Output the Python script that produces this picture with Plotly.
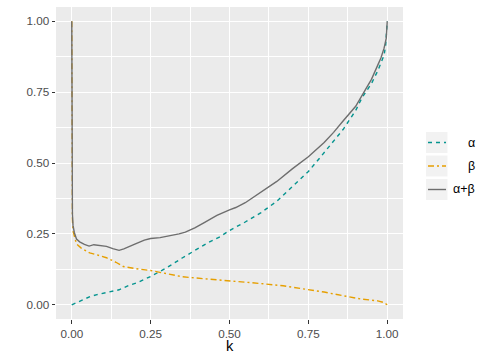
"""Recreate the alpha / beta / alpha+beta curves chart in a ggplot2 look."""

from __future__ import annotations

import plotly.graph_objects as go

K_SUM = [
  0, 0.0005, 0.001, 0.002, 0.004, 0.008, 0.015, 0.025, 0.04, 0.055, 0.07, 0.09,
  0.11, 0.13, 0.15, 0.165, 0.18, 0.2, 0.23, 0.25, 0.28, 0.31, 0.34, 0.36, 0.39,
  0.42, 0.46, 0.5, 0.52, 0.55, 0.6, 0.65, 0.7, 0.75, 0.8, 0.83, 0.86, 0.9, 0.93,
  0.95, 0.97, 0.98, 0.99, 0.997, 1.0,
]
SUM_VALUES = [
  1.0, 0.7, 0.45, 0.32, 0.28, 0.255, 0.232, 0.222, 0.213, 0.207, 0.212, 0.209,
  0.206, 0.198, 0.192, 0.197, 0.205, 0.214, 0.228, 0.234, 0.237, 0.243, 0.25, 0.256, 0.271,
  0.29, 0.315, 0.335, 0.343, 0.36, 0.396, 0.435, 0.48, 0.522, 0.572, 0.608, 0.648, 0.70, 0.757,
  0.795, 0.845, 0.87, 0.905, 0.94, 1.0,
]

K_ALPHA = [
  0, 0.02, 0.036, 0.06, 0.08, 0.11, 0.15, 0.18, 0.21, 0.25, 0.3, 0.35, 0.4, 0.43,
  0.47, 0.5, 0.55, 0.6, 0.65, 0.7, 0.72, 0.75, 0.79, 0.83, 0.86, 0.9, 0.92, 0.95,
  0.97, 0.99, 0.995, 1.0,
]
ALPHA_VALUES = [
  0, 0.01, 0.018, 0.03, 0.036, 0.043, 0.053, 0.068, 0.079, 0.1, 0.13, 0.165, 0.198, 0.218,
  0.24, 0.262, 0.292, 0.325, 0.365, 0.418, 0.44, 0.47, 0.523, 0.575, 0.618, 0.685, 0.73, 0.78,
  0.825, 0.88, 0.915, 1.0,
]

K_BETA = [
  0, 0.0005, 0.001, 0.002, 0.004, 0.008, 0.015, 0.03, 0.057, 0.08, 0.11, 0.14, 0.163,
  0.2, 0.25, 0.3, 0.35, 0.43, 0.5, 0.53, 0.6, 0.67, 0.75, 0.8, 0.87, 0.92, 0.97, 0.99, 1.0,
]
BETA_VALUES = [
  1.0, 0.7, 0.45, 0.3, 0.26, 0.24, 0.215, 0.2, 0.183, 0.176, 0.166, 0.15, 0.135,
  0.128, 0.121, 0.11, 0.099, 0.091, 0.085, 0.082, 0.075, 0.067, 0.053, 0.045, 0.03, 0.02, 0.014, 0.008, 0.0,
]

TICKS = [0, 0.25, 0.5, 0.75, 1.0]
TICK_LABELS = ["0.00", "0.25", "0.50", "0.75", "1.00"]

SERIES = [
  ("α", K_ALPHA, ALPHA_VALUES, "#05948F", "4px,4px"),
  ("β", K_BETA, BETA_VALUES, "#E69F00", "6px,3px,2px,3px"),
  ("α+β", K_SUM, SUM_VALUES, "#6E6E6E", "solid"),
]

FONT = "Liberation Sans, Arial, sans-serif"

# panel box in pixels (left, right, top, bottom)
PANEL = (56, 403, 7, 319)


def _px(x: float, y: float) -> tuple[float, float]:
  """
  Convert page pixels to paper coordinates.

  Args:
      x (float): Horizontal pixel.
      y (float): Vertical pixel from the top.

  Returns:
      tuple[float, float]: Paper coordinates.
  """
  left, right, top, bottom = PANEL
  return (x - left) / (right - left), (bottom - y) / (bottom - top)


def _axis() -> dict:
  """
  Build a ggplot-like axis definition.

  Returns:
      dict: Plotly axis settings.
  """
  return dict(
    range=[-0.05, 1.05], tickvals=TICKS, ticktext=TICK_LABELS, automargin=False,
    ticks="outside", ticklen=3.5, tickwidth=1.1, tickcolor="#333333",
    tickfont=dict(size=11.7, color="#4D4D4D", family=FONT),
    showgrid=True, gridcolor="white", gridwidth=1.4, zeroline=False,
    minor=dict(dtick=0.125, tick0=0.125, showgrid=True, gridcolor="white", gridwidth=0.7, ticks=""),
  )


fig = go.Figure()
for name, xs, ys, color, dash in SERIES:
  fig.add_trace(go.Scatter(
    x=xs, y=ys, name=name, mode="lines", showlegend=False,
    line=dict(color=color, width=1.4, dash=dash),
  ))

# hand-drawn legend, ggplot style (grey key boxes, right-aligned labels)
shapes = []
annotations = []
for i, (name, _, _, color, dash) in enumerate(SERIES):
  top = 132 + i * 23.5
  x0, y0 = _px(426, top + 21)
  x1, y1 = _px(447.5, top)
  shapes.append(dict(
    type="rect", xref="paper", yref="paper", layer="below",
    x0=x0, x1=x1, y0=y0, y1=y1, fillcolor="#F2F2F2", line=dict(width=0),
  ))
  lx0, ly = _px(428, top + 10.5)
  lx1, _ = _px(446, top + 10.5)
  shapes.append(dict(
    type="line", xref="paper", yref="paper",
    x0=lx0, x1=lx1, y0=ly, y1=ly, line=dict(color=color, width=1.4, dash=dash),
  ))
  tx, _ = _px(477, 0)
  annotations.append(dict(
    text=name, xref="paper", yref="paper", showarrow=False,
    x=tx, y=ly, xanchor="right", yanchor="middle",
    font=dict(size=12.5, color="black", family=FONT),
  ))

_, ky = _px(230, 346)
annotations.append(dict(
  text="k", xref="paper", yref="paper", showarrow=False,
  x=0.5, y=ky, xanchor="center", yanchor="middle",
  font=dict(size=14.7, color="black", family=FONT),
))

fig.update_layout(
  width=490, height=360,
  margin=dict(l=PANEL[0], r=490 - PANEL[1], t=PANEL[2], b=360 - PANEL[3]),
  paper_bgcolor="white", plot_bgcolor="#EBEBEB",
  xaxis=_axis(), yaxis=_axis(),
  shapes=shapes, annotations=annotations,
  font=dict(family=FONT),
)

# drop the browser's default body margin so the figure sits at the page corner
fig.write_html(
  "out.html",
  config={"displayModeBar": False},
  post_script="document.body.style.margin='0';",
)
